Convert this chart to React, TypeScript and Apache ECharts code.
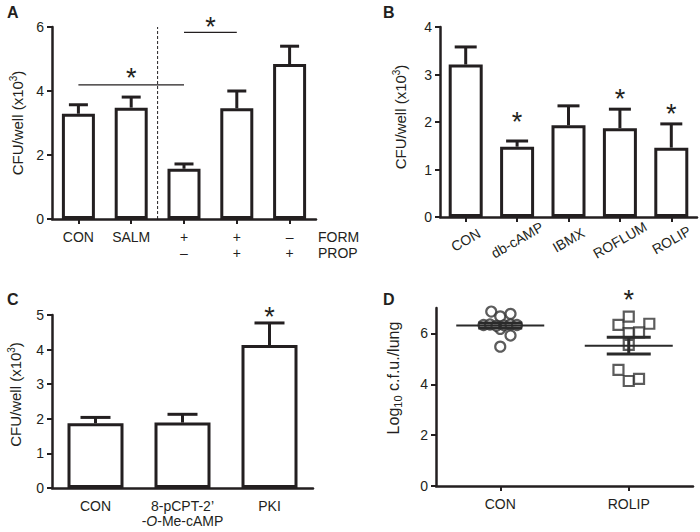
import React, { useEffect, useRef } from "react";
import * as echarts from "echarts";

const INK = "#231f20";
const FONT = "'Liberation Sans', Arial, Helvetica, sans-serif";

// ---------- Panel A ----------
const aCategories = ["CON", "SALM", "+\n–", "+\n+", "–\n+"];
const aMeans = [3.29, 3.48, 1.57, 3.46, 4.84];
const aErrors = [0.28, 0.33, 0.15, 0.54, 0.56];
const aBrackets = [[0, 2, 4.19], [2, 3, 5.83]]; // [fromCat, toCat, value]
const aStars = [[0, 2, 4.59], [2, 3, 6.16]]; // [fromCat, toCat, value]
const aDivider = [[1, 2, 0, 6]]; // between cats, from value, to value
const aRowLabels = ["FORM", "PROP"];

// ---------- Panel B ----------
const bCategories = ["CON", "db-cAMP", "IBMX", "ROFLUM", "ROLIP"];
const bMeans = [3.21, 1.48, 1.93, 1.87, 1.46];
const bErrors = [0.37, 0.12, 0.41, 0.4, 0.5];
const bStars = [[1, 1, 2.11], [3, 3, 2.59], [4, 4, 2.29]];

// ---------- Panel C ----------
const cCategories = ["CON", "8-pCPT-2’\n-O-Me-cAMP", "PKI"];
const cMeans = [1.87, 1.89, 4.13];
const cErrors = [0.17, 0.24, 0.64];
const cStars = [[2, 2, 5.1]];

// ---------- Panel D ----------
const dCategories = ["CON", "ROLIP"];
const dConValues = [6.86, 6.67, 6.77, 5.92, 5.48, 6.18, 6.33, 6.35, 6.3, 6.32, 6.35, 6.33];
const dConX = [0.93, 1.0, 1.08, 1.08, 1.0, 1.0, 0.87, 0.92, 0.97, 1.03, 1.08, 1.13];
const dRolipValues = [6.34, 6.66, 6.38, 6.01, 6.04, 5.55, 4.57, 4.13, 4.21];
const dRolipX = [1.92, 2.0, 2.16, 2.0, 2.08, 2.0, 1.92, 2.0, 2.08];
const dMeans = [6.31, 5.52];
const dSem = [0.1, 0.33];
const dStars = [[1, 1, 7.52]];

const yName = "CFU/well (x10{sup|3})";
const dYName = "Log{sub|10} c.f.u./lung";

const STAR_SIZE = 27;

function midCoord(api: any, a: number, b: number, v: number) {
  const p1 = api.coord([a, v]);
  const p2 = api.coord([b, v]);
  return [(p1[0] + p2[0]) / 2, (p1[1] + p2[1]) / 2];
}

function errorRender(capHalf: number) {
  return (params: any, api: any) => {
    const x = api.value(0);
    const m = api.value(1);
    const e = api.value(2);
    const base = api.coord([x, m]);
    const top = api.coord([x, m + e]);
    return {
      type: "group",
      children: [
        { type: "line", shape: { x1: base[0], y1: base[1], x2: top[0], y2: top[1] }, style: { stroke: INK, lineWidth: 3 } },
        { type: "line", shape: { x1: top[0] - capHalf, y1: top[1], x2: top[0] + capHalf, y2: top[1] }, style: { stroke: INK, lineWidth: 3 } },
      ],
    };
  };
}

function bracketRender(params: any, api: any) {
  const v = api.value(2);
  const p1 = api.coord([api.value(0), v]);
  const p2 = api.coord([api.value(1), v]);
  return { type: "line", shape: { x1: p1[0], y1: p1[1], x2: p2[0], y2: p2[1] }, style: { stroke: INK, lineWidth: 1.2 } };
}

function starRender(params: any, api: any) {
  const p = midCoord(api, api.value(0), api.value(1), api.value(2));
  return {
    type: "text",
    x: p[0],
    y: p[1] + STAR_SIZE * 0.2,
    style: { text: "*", fontSize: STAR_SIZE, fontFamily: FONT, fill: INK, align: "center", verticalAlign: "middle" },
  };
}

function dividerRender(params: any, api: any) {
  const p1 = midCoord(api, api.value(0), api.value(1), api.value(2));
  const p2 = midCoord(api, api.value(0), api.value(1), api.value(3));
  return { type: "line", shape: { x1: p1[0], y1: p1[1], x2: p2[0], y2: p2[1] }, style: { stroke: INK, lineWidth: 1, lineDash: [3, 2] } };
}

function meanSemRender(params: any, api: any) {
  const x = api.value(0);
  const m = api.value(1);
  const s = api.value(2);
  const pm = api.coord([x, m]);
  const pu = api.coord([x, m + s]);
  const pl = api.coord([x, m - s]);
  const c = "#2a2a2a";
  return {
    type: "group",
    children: [
      { type: "line", shape: { x1: pm[0] - 44, y1: pm[1], x2: pm[0] + 44, y2: pm[1] }, style: { stroke: c, lineWidth: 2 } },
      { type: "line", shape: { x1: pu[0], y1: pu[1], x2: pl[0], y2: pl[1] }, style: { stroke: c, lineWidth: 3 } },
      { type: "line", shape: { x1: pu[0] - 22, y1: pu[1], x2: pu[0] + 22, y2: pu[1] }, style: { stroke: c, lineWidth: 3 } },
      { type: "line", shape: { x1: pl[0] - 22, y1: pl[1], x2: pl[0] + 22, y2: pl[1] }, style: { stroke: c, lineWidth: 3 } },
    ],
  };
}

const axisLine = { lineStyle: { color: INK, width: 2.5 } };
const tickStyle = { lineStyle: { color: INK, width: 2 }, length: 5 };
const labelBase = { color: INK, fontSize: 14, fontFamily: FONT };

function catAxis(gridIndex: number, data: string[], extra: any = {}, tickShow = true) {
  return {
    type: "category",
    gridIndex,
    data,
    axisLine,
    axisTick: { show: tickShow, alignWithLabel: true, ...tickStyle },
    axisLabel: { ...labelBase, interval: 0, margin: 10, lineHeight: 16, ...extra },
    splitLine: { show: false },
  };
}

function valAxis(
  gridIndex: number,
  max: number,
  interval: number,
  name: string,
  nameGap: number,
  shift: number,
  nameSize: number,
  extraLabel: any = {},
  extraTick: any = {}
) {
  return {
    type: "value",
    gridIndex,
    min: 0,
    max,
    interval,
    name,
    nameLocation: "middle",
    nameGap,
    nameTextStyle: {
      color: INK,
      fontSize: nameSize,
      fontFamily: FONT,
      lineHeight: nameSize + 3,
      padding: [0, 0, 0, shift],
      rich: {
        sup: { fontSize: 10, fontFamily: FONT, color: INK, verticalAlign: "top", lineHeight: 10 },
        sub: { fontSize: 11, fontFamily: FONT, color: INK, verticalAlign: "bottom", lineHeight: 12 },
      },
    },
    axisLine: { show: true, ...axisLine },
    axisTick: { show: true, ...tickStyle, ...extraTick },
    axisLabel: { ...labelBase, margin: 8, ...extraLabel },
    splitLine: { show: false },
  };
}

function barSeries(axisIndex: number, data: number[], barWidth: number) {
  return {
    type: "bar",
    xAxisIndex: axisIndex,
    yAxisIndex: axisIndex,
    data,
    barWidth,
    itemStyle: { color: "#ffffff", borderColor: INK, borderWidth: 3 },
    silent: true,
  };
}

function errSeries(axisIndex: number, means: number[], errs: number[], capHalf: number) {
  return {
    type: "custom",
    xAxisIndex: axisIndex,
    yAxisIndex: axisIndex,
    data: means.map((m, i) => [i, m, errs[i]]),
    encode: { x: 0, y: 1 },
    renderItem: errorRender(capHalf),
    z: 3,
  };
}

function starSeries(axisIndex: number, data: number[][]) {
  return {
    type: "custom",
    xAxisIndex: axisIndex,
    yAxisIndex: axisIndex,
    data,
    encode: { x: 0, y: 2 },
    renderItem: starRender,
    clip: false,
    z: 4,
  };
}

export default function App() {
  const ref = useRef<HTMLDivElement>(null);

  useEffect(() => {
    if (!ref.current) return;
    const chart = echarts.init(ref.current, undefined, { renderer: "svg" });

    const option: any = {
      animation: false,
      backgroundColor: "#ffffff",
      textStyle: { fontFamily: FONT },
      grid: [
        { left: 52, top: 27, width: 264, height: 192 },
        { left: 440, top: 27, width: 257, height: 190 },
        { left: 52, top: 315, width: 261, height: 173 },
        { left: 436, top: 308, width: 257, height: 178 },
      ],
      xAxis: [
        catAxis(0, aCategories),
        catAxis(1, bCategories, { rotate: 30, margin: 23, align: "center", verticalAlign: "middle" }),
        catAxis(
          2,
          cCategories,
          {
            lineHeight: 15,
            formatter: (v: string) => v.replace("-O-", "-{i|O}-"),
            rich: { i: { fontStyle: "italic", fontSize: 14, fontFamily: FONT, color: INK, lineHeight: 15 } },
          },
          false
        ),
        catAxis(3, dCategories),
        { type: "value", gridIndex: 3, min: 0.5, max: 2.5, show: false },
      ],
      yAxis: [
        valAxis(0, 6, 2, yName, 26, 0, 15),
        valAxis(1, 4, 1, yName, 31, 10, 15),
        valAxis(2, 5, 1, yName, 28, 14, 15),
        valAxis(3, 7, 2, dYName, 33, 38, 16, { customValues: [0, 2, 4, 6] }, { customValues: [0, 2, 4, 6] }),
      ],
      graphic: [
        { type: "text", left: 7, top: 4, style: { text: "A", font: `bold 16px ${FONT}`, fill: INK } },
        { type: "text", left: 383, top: 4, style: { text: "B", font: `bold 16px ${FONT}`, fill: INK } },
        { type: "text", left: 7, top: 291, style: { text: "C", font: `bold 16px ${FONT}`, fill: INK } },
        { type: "text", left: 383, top: 291, style: { text: "D", font: `bold 16px ${FONT}`, fill: INK } },
        { type: "text", left: 318, top: 230, style: { text: aRowLabels[0], font: `14px ${FONT}`, fill: INK } },
        { type: "text", left: 318, top: 246, style: { text: aRowLabels[1], font: `14px ${FONT}`, fill: INK } },
      ],
      series: [
        // A
        barSeries(0, aMeans, 33),
        errSeries(0, aMeans, aErrors, 9.5),
        {
          type: "custom",
          xAxisIndex: 0,
          yAxisIndex: 0,
          data: aBrackets,
          encode: { x: 0, y: 2 },
          renderItem: bracketRender,
          z: 4,
        },
        {
          type: "custom",
          xAxisIndex: 0,
          yAxisIndex: 0,
          data: aDivider,
          encode: { x: 0, y: 2 },
          renderItem: dividerRender,
          z: 4,
        },
        starSeries(0, aStars),
        // B
        barSeries(1, bMeans, 34),
        errSeries(1, bMeans, bErrors, 11),
        starSeries(1, bStars),
        // C
        barSeries(2, cMeans, 56),
        errSeries(2, cMeans, cErrors, 15),
        starSeries(2, cStars),
        // D
        {
          type: "scatter",
          xAxisIndex: 4,
          yAxisIndex: 3,
          data: dConValues.map((v, i) => [dConX[i], v]),
          symbol: "circle",
          symbolSize: 10,
          itemStyle: { color: "#ffffff", borderColor: "#333333", borderWidth: 2.2 },
          z: 2,
        },
        {
          type: "scatter",
          xAxisIndex: 4,
          yAxisIndex: 3,
          data: dRolipValues.map((v, i) => [dRolipX[i], v]),
          symbol: "rect",
          symbolSize: 10,
          itemStyle: { color: "#ffffff", borderColor: "#333333", borderWidth: 2.2 },
          z: 2,
        },
        {
          type: "custom",
          xAxisIndex: 3,
          yAxisIndex: 3,
          data: dMeans.map((m, i) => [i, m, dSem[i]]),
          encode: { x: 0, y: 1 },
          renderItem: meanSemRender,
          z: 5,
        },
        starSeries(3, dStars),
      ],
    };

    chart.setOption(option);
    return () => chart.dispose();
  }, []);

  return <div ref={ref} style={{ position: "absolute", left: 0, top: 0, width: 700, height: 532 }} />;
}
